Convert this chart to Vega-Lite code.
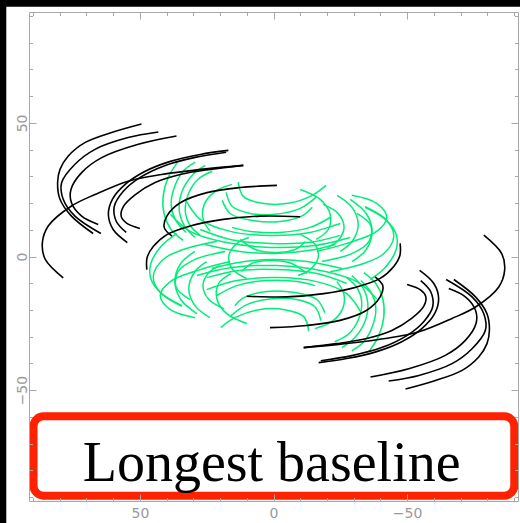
{
"$schema": "https://vega.github.io/schema/vega-lite/v6.json",
"width": 489, "height": 489,
"autosize": {"type": "none"},
"padding": {"left": 29, "top": 12, "right": 2, "bottom": 22},
"background": "black",
"config": {"view": {"stroke": null},
  "axis": {"grid": false, "zindex": 1, "domainColor": "#a8a8a8", "tickColor": "#a8a8a8", "labelColor": "#999999", "labelFont": "DejaVu Sans", "labelFontSize": 14, "tickWidth": 1, "domainWidth": 1}},
"datasets": {
"one": [{"k": 1}],
"blk": [
{"id":"C1","u":49.4,"v":49.6},{"id":"C1","u":60.6,"v":46.4},{"id":"C1","u":70.6,"v":42.6},{"id":"C1","u":76.8,"v":37.6},{"id":"C1","u":79.9,"v":32.6},{"id":"C1","u":80.8,"v":27.6},{"id":"C1","u":79.9,"v":21.4},{"id":"C1","u":75.6,"v":15.1},{"id":"C1","u":67.5,"v":8.6},
{"id":"C1m","u":-49.4,"v":-49.6},{"id":"C1m","u":-60.6,"v":-46.4},{"id":"C1m","u":-70.6,"v":-42.6},{"id":"C1m","u":-76.8,"v":-37.6},{"id":"C1m","u":-79.9,"v":-32.6},{"id":"C1m","u":-80.8,"v":-27.6},{"id":"C1m","u":-79.9,"v":-21.4},{"id":"C1m","u":-75.6,"v":-15.1},{"id":"C1m","u":-67.5,"v":-8.6},
{"id":"C2","u":43.1,"v":46.6},{"id":"C2","u":54.4,"v":44.5},{"id":"C2","u":66.8,"v":40.1},{"id":"C2","u":74.3,"v":34.5},{"id":"C2","u":79.3,"v":27.6},{"id":"C2","u":78.7,"v":21.4},{"id":"C2","u":74.3,"v":15.1},{"id":"C2","u":64.6,"v":8.6},
{"id":"C2m","u":-43.1,"v":-46.6},{"id":"C2m","u":-54.4,"v":-44.5},{"id":"C2m","u":-66.8,"v":-40.1},{"id":"C2m","u":-74.3,"v":-34.5},{"id":"C2m","u":-79.3,"v":-27.6},{"id":"C2m","u":-78.7,"v":-21.4},{"id":"C2m","u":-74.3,"v":-15.1},{"id":"C2m","u":-64.6,"v":-8.6},
{"id":"C3","u":36.3,"v":45.1},{"id":"C3","u":50.6,"v":42.0},{"id":"C3","u":64.3,"v":37.0},{"id":"C3","u":71.8,"v":31.4},{"id":"C3","u":75.8,"v":25.1},{"id":"C3","u":75.6,"v":20.1},{"id":"C3","u":71.8,"v":15.1},{"id":"C3","u":65.6,"v":12.0},
{"id":"C3m","u":-36.3,"v":-45.1},{"id":"C3m","u":-50.6,"v":-42.0},{"id":"C3m","u":-64.3,"v":-37.0},{"id":"C3m","u":-71.8,"v":-31.4},{"id":"C3m","u":-75.8,"v":-25.1},{"id":"C3m","u":-75.6,"v":-20.1},{"id":"C3m","u":-71.8,"v":-15.1},{"id":"C3m","u":-65.6,"v":-12.0},
{"id":"D1","u":16.9,"v":39.7},{"id":"D1","u":27.4,"v":38.2},{"id":"D1","u":38.6,"v":35.6},{"id":"D1","u":48.0,"v":31.9},{"id":"D1","u":55.5,"v":27.0},{"id":"D1","u":60.3,"v":21.4},{"id":"D1","u":61.8,"v":15.7},{"id":"D1","u":60.0,"v":10.1},{"id":"D1","u":54.7,"v":5.2},
{"id":"D1m","u":-16.9,"v":-39.7},{"id":"D1m","u":-27.4,"v":-38.2},{"id":"D1m","u":-38.6,"v":-35.6},{"id":"D1m","u":-48.0,"v":-31.9},{"id":"D1m","u":-55.5,"v":-27.0},{"id":"D1m","u":-60.3,"v":-21.4},{"id":"D1m","u":-61.8,"v":-15.7},{"id":"D1m","u":-60.0,"v":-10.1},{"id":"D1m","u":-54.7,"v":-5.2},
{"id":"D2","u":17.7,"v":39.0},{"id":"D2","u":29.3,"v":37.1},{"id":"D2","u":40.5,"v":34.1},{"id":"D2","u":49.9,"v":29.6},{"id":"D2","u":56.2,"v":24.4},{"id":"D2","u":59.6,"v":18.7},{"id":"D2","u":58.8,"v":13.1},{"id":"D2","u":55.1,"v":9.0},
{"id":"D2m","u":-17.7,"v":-39.0},{"id":"D2m","u":-29.3,"v":-37.1},{"id":"D2m","u":-40.5,"v":-34.1},{"id":"D2m","u":-49.9,"v":-29.6},{"id":"D2m","u":-56.2,"v":-24.4},{"id":"D2m","u":-59.6,"v":-18.7},{"id":"D2m","u":-58.8,"v":-13.1},{"id":"D2m","u":-55.1,"v":-9.0},
{"id":"D3","u":11.3,"v":34.1},{"id":"D3","u":23.7,"v":32.6},{"id":"D3","u":34.9,"v":30.7},{"id":"D3","u":44.3,"v":27.7},{"id":"D3","u":51.7,"v":23.2},{"id":"D3","u":56.2,"v":18.7},{"id":"D3","u":57.0,"v":15.0},{"id":"D3","u":55.0,"v":12.5},{"id":"D3","u":50.0,"v":10.5},
{"id":"D3m","u":-11.3,"v":-34.1},{"id":"D3m","u":-23.7,"v":-32.6},{"id":"D3m","u":-34.9,"v":-30.7},{"id":"D3m","u":-44.3,"v":-27.7},{"id":"D3m","u":-51.7,"v":-23.2},{"id":"D3m","u":-56.2,"v":-18.7},{"id":"D3m","u":-57.0,"v":-15.0},{"id":"D3m","u":-55.0,"v":-12.5},{"id":"D3m","u":-50.0,"v":-10.5},
{"id":"E","u":11.3,"v":34.1},{"id":"E","u":24.4,"v":32.9},{"id":"E","u":41.9,"v":30.7},{"id":"E","u":54.4,"v":28.2},{"id":"E","u":66.8,"v":23.2},{"id":"E","u":75.6,"v":18.9},{"id":"E","u":84.3,"v":11.4},{"id":"E","u":86.5,"v":5.1},{"id":"E","u":85.4,"v":-1.1},{"id":"E","u":78.7,"v":-8.0},
{"id":"Em","u":-11.3,"v":-34.1},{"id":"Em","u":-24.4,"v":-32.9},{"id":"Em","u":-41.9,"v":-30.7},{"id":"Em","u":-54.4,"v":-28.2},{"id":"Em","u":-66.8,"v":-23.2},{"id":"Em","u":-75.6,"v":-18.9},{"id":"Em","u":-84.3,"v":-11.4},{"id":"Em","u":-86.5,"v":-5.1},{"id":"Em","u":-85.4,"v":1.1},{"id":"Em","u":-78.7,"v":8.0},
{"id":"F1","u":-1.3,"v":26.6},{"id":"F1","u":12.5,"v":25.8},{"id":"F1","u":24.9,"v":23.9},{"id":"F1","u":34.9,"v":20.1},{"id":"F1","u":39.9,"v":15.1},{"id":"F1","u":40.9,"v":10.9},{"id":"F1","u":38.0,"v":7.6},
{"id":"F1m","u":1.3,"v":-26.6},{"id":"F1m","u":-12.5,"v":-25.8},{"id":"F1m","u":-24.9,"v":-23.9},{"id":"F1m","u":-34.9,"v":-20.1},{"id":"F1m","u":-39.9,"v":-15.1},{"id":"F1m","u":-40.9,"v":-10.9},{"id":"F1m","u":-38.0,"v":-7.6},
{"id":"F2","u":-10.0,"v":14.9},{"id":"F2","u":5.0,"v":15.1},{"id":"F2","u":18.8,"v":13.9},{"id":"F2","u":31.2,"v":11.4},{"id":"F2","u":39.9,"v":8.2},{"id":"F2","u":45.0,"v":3.7},{"id":"F2","u":47.3,"v":-0.4},{"id":"F2","u":47.4,"v":-4.9},
{"id":"F2m","u":10.0,"v":-14.9},{"id":"F2m","u":-5.0,"v":-15.1},{"id":"F2m","u":-18.8,"v":-13.9},{"id":"F2m","u":-31.2,"v":-11.4},{"id":"F2m","u":-39.9,"v":-8.2},{"id":"F2m","u":-45.0,"v":-3.7},{"id":"F2m","u":-47.3,"v":0.4},{"id":"F2m","u":-47.4,"v":4.9}
],
"grn": [
{"id":"GA1","u":35.7,"v":35.6},{"id":"GA1","u":39.4,"v":29.6},{"id":"GA1","u":41.3,"v":22.5},{"id":"GA1","u":40.9,"v":15.8},{"id":"GA1","u":38.3,"v":10.1},{"id":"GA1","u":33.8,"v":6.0},
{"id":"GA1m","u":-35.7,"v":-35.6},{"id":"GA1m","u":-39.4,"v":-29.6},{"id":"GA1m","u":-41.3,"v":-22.5},{"id":"GA1m","u":-40.9,"v":-15.8},{"id":"GA1m","u":-38.3,"v":-10.1},{"id":"GA1m","u":-33.8,"v":-6.0},
{"id":"GA2","u":29.3,"v":35.3},{"id":"GA2","u":33.8,"v":31.9},{"id":"GA2","u":37.1,"v":25.9},{"id":"GA2","u":38.3,"v":19.5},{"id":"GA2","u":36.8,"v":13.9},{"id":"GA2","u":32.7,"v":9.0},
{"id":"GA2m","u":-29.3,"v":-35.3},{"id":"GA2m","u":-33.8,"v":-31.9},{"id":"GA2m","u":-37.1,"v":-25.9},{"id":"GA2m","u":-38.3,"v":-19.5},{"id":"GA2m","u":-36.8,"v":-13.9},{"id":"GA2m","u":-32.7,"v":-9.0},
{"id":"GA3","u":22.9,"v":31.9},{"id":"GA3","u":28.2,"v":28.9},{"id":"GA3","u":31.9,"v":23.3},{"id":"GA3","u":33.0,"v":16.9},{"id":"GA3","u":31.2,"v":11.6},{"id":"GA3","u":27.4,"v":7.9},
{"id":"GA3m","u":-22.9,"v":-31.9},{"id":"GA3m","u":-28.2,"v":-28.9},{"id":"GA3m","u":-31.9,"v":-23.3},{"id":"GA3m","u":-33.0,"v":-16.9},{"id":"GA3m","u":-31.2,"v":-11.6},{"id":"GA3m","u":-27.4,"v":-7.9},
{"id":"GA4","u":15.5,"v":27.0},{"id":"GA4","u":21.8,"v":24.4},{"id":"GA4","u":25.9,"v":19.5},{"id":"GA4","u":26.3,"v":13.9},{"id":"GA4","u":23.7,"v":9.4},
{"id":"GA4m","u":-15.5,"v":-27.0},{"id":"GA4m","u":-21.8,"v":-24.4},{"id":"GA4m","u":-25.9,"v":-19.5},{"id":"GA4m","u":-26.3,"v":-13.9},{"id":"GA4m","u":-23.7,"v":-9.4},
{"id":"GA5","u":25.6,"v":34.1},{"id":"GA5","u":30.4,"v":30.4},{"id":"GA5","u":34.2,"v":24.4},{"id":"GA5","u":35.3,"v":17.6},{"id":"GA5","u":33.4,"v":11.6},{"id":"GA5","u":29.3,"v":7.1},
{"id":"GA5m","u":-25.6,"v":-34.1},{"id":"GA5m","u":-30.4,"v":-30.4},{"id":"GA5m","u":-34.2,"v":-24.4},{"id":"GA5m","u":-35.3,"v":-17.6},{"id":"GA5m","u":-33.4,"v":-11.6},{"id":"GA5m","u":-29.3,"v":-7.1},
{"id":"GB1","u":17.7,"v":24.0},{"id":"GB1","u":15.5,"v":18.8},{"id":"GB1","u":8.7,"v":16.1},{"id":"GB1","u":-0.6,"v":15.8},{"id":"GB1","u":-10.0,"v":18.0},{"id":"GB1","u":-16.3,"v":22.5},
{"id":"GB1m","u":-17.7,"v":-24.0},{"id":"GB1m","u":-15.5,"v":-18.8},{"id":"GB1m","u":-8.7,"v":-16.1},{"id":"GB1m","u":0.6,"v":-15.8},{"id":"GB1m","u":10.0,"v":-18.0},{"id":"GB1m","u":16.3,"v":-22.5},
{"id":"GB2","u":19.2,"v":21.0},{"id":"GB2","u":16.2,"v":16.1},{"id":"GB2","u":8.0,"v":13.5},{"id":"GB2","u":-2.5,"v":13.1},{"id":"GB2","u":-11.1,"v":15.4},{"id":"GB2","u":-14.5,"v":18.4},
{"id":"GB2m","u":-19.2,"v":-21.0},{"id":"GB2m","u":-16.2,"v":-16.1},{"id":"GB2m","u":-8.0,"v":-13.5},{"id":"GB2m","u":2.5,"v":-13.1},{"id":"GB2m","u":11.1,"v":-15.4},{"id":"GB2m","u":14.5,"v":-18.4},
{"id":"GB3","u":15.5,"v":10.9},{"id":"GB3","u":8.7,"v":9.4},{"id":"GB3","u":-2.5,"v":9.0},{"id":"GB3","u":-13.7,"v":10.9},{"id":"GB3","u":-21.2,"v":14.6},
{"id":"GB3m","u":-15.5,"v":-10.9},{"id":"GB3m","u":-8.7,"v":-9.4},{"id":"GB3m","u":2.5,"v":-9.0},{"id":"GB3m","u":13.7,"v":-10.9},{"id":"GB3m","u":21.2,"v":-14.6},
{"id":"GB4","u":13.2,"v":27.8},{"id":"GB4","u":11.3,"v":22.5},{"id":"GB4","u":4.2,"v":19.9},{"id":"GB4","u":-5.5,"v":19.9},{"id":"GB4","u":-14.5,"v":22.9},{"id":"GB4","u":-19.7,"v":26.6},
{"id":"GB4m","u":-13.2,"v":-27.8},{"id":"GB4m","u":-11.3,"v":-22.5},{"id":"GB4m","u":-4.2,"v":-19.9},{"id":"GB4m","u":5.5,"v":-19.9},{"id":"GB4m","u":14.5,"v":-22.9},{"id":"GB4m","u":19.7,"v":-26.6},
{"id":"GC1","u":-18.6,"v":19.5},{"id":"GC1","u":-24.2,"v":16.1},{"id":"GC1","u":-26.4,"v":10.9},{"id":"GC1","u":-24.2,"v":6.0},{"id":"GC1","u":-20.1,"v":3.4},
{"id":"GC1m","u":18.6,"v":-19.5},{"id":"GC1m","u":24.2,"v":-16.1},{"id":"GC1m","u":26.4,"v":-10.9},{"id":"GC1m","u":24.2,"v":-6.0},{"id":"GC1m","u":20.1,"v":-3.4},
{"id":"GC2","u":-23.8,"v":22.9},{"id":"GC2","u":-29.4,"v":18.4},{"id":"GC2","u":-31.7,"v":12.0},{"id":"GC2","u":-29.4,"v":5.6},{"id":"GC2","u":-25.0,"v":1.9},
{"id":"GC2m","u":23.8,"v":-22.9},{"id":"GC2m","u":29.4,"v":-18.4},{"id":"GC2m","u":31.7,"v":-12.0},{"id":"GC2m","u":29.4,"v":-5.6},{"id":"GC2m","u":25.0,"v":-1.9},
{"id":"GC3","u":-34.3,"v":18.4},{"id":"GC3","u":-41.8,"v":13.9},{"id":"GC3","u":-45.9,"v":8.3},{"id":"GC3","u":-45.9,"v":2.6},{"id":"GC3","u":-41.8,"v":-4.1},{"id":"GC3","u":-36.2,"v":-8.6},
{"id":"GC3m","u":34.3,"v":-18.4},{"id":"GC3m","u":41.8,"v":-13.9},{"id":"GC3m","u":45.9,"v":-8.3},{"id":"GC3m","u":45.9,"v":-2.6},{"id":"GC3m","u":41.8,"v":4.1},{"id":"GC3m","u":36.2,"v":8.6},
{"id":"GC4","u":-28.7,"v":21.4},{"id":"GC4","u":-34.7,"v":16.1},{"id":"GC4","u":-36.9,"v":9.4},{"id":"GC4","u":-34.7,"v":2.6},{"id":"GC4","u":-29.4,"v":-1.9},
{"id":"GC4m","u":28.7,"v":-21.4},{"id":"GC4m","u":34.7,"v":-16.1},{"id":"GC4m","u":36.9,"v":-9.4},{"id":"GC4m","u":34.7,"v":-2.6},{"id":"GC4m","u":29.4,"v":1.9},
{"id":"GC5","u":-10.0,"v":25.1},{"id":"GC5","u":-17.5,"v":21.4},{"id":"GC5","u":-21.2,"v":15.8},{"id":"GC5","u":-20.5,"v":10.1},{"id":"GC5","u":-16.0,"v":6.4},
{"id":"GC5m","u":10.0,"v":-25.1},{"id":"GC5m","u":17.5,"v":-21.4},{"id":"GC5m","u":21.2,"v":-15.8},{"id":"GC5m","u":20.5,"v":-10.1},{"id":"GC5m","u":16.0,"v":-6.4},
{"id":"GD1","u":27.4,"v":10.1},{"id":"GD1","u":16.2,"v":6.4},{"id":"GD1","u":1.2,"v":4.9},{"id":"GD1","u":-13.7,"v":5.3},{"id":"GD1","u":-25.0,"v":7.9},
{"id":"GD1m","u":-27.4,"v":-10.1},{"id":"GD1m","u":-16.2,"v":-6.4},{"id":"GD1m","u":-1.2,"v":-4.9},{"id":"GD1m","u":13.7,"v":-5.3},{"id":"GD1m","u":25.0,"v":-7.9},
{"id":"GD2","u":25.6,"v":4.5},{"id":"GD2","u":12.5,"v":1.9},{"id":"GD2","u":-0.6,"v":1.1},{"id":"GD2","u":-13.7,"v":2.3},{"id":"GD2","u":-23.1,"v":4.5},
{"id":"GD2m","u":-25.6,"v":-4.5},{"id":"GD2m","u":-12.5,"v":-1.9},{"id":"GD2m","u":0.6,"v":-1.1},{"id":"GD2m","u":13.7,"v":-2.3},{"id":"GD2m","u":23.1,"v":-4.5},
{"id":"GE1","u":21.2,"v":5.7},{"id":"GE1","u":33.8,"v":2.6},{"id":"GE1","u":41.3,"v":-1.1},{"id":"GE1","u":45.0,"v":-7.5},{"id":"GE1","u":42.4,"v":-13.5},{"id":"GE1","u":34.3,"v":-18.6},
{"id":"GE1m","u":-21.2,"v":-5.7},{"id":"GE1m","u":-33.8,"v":-2.6},{"id":"GE1m","u":-41.3,"v":1.1},{"id":"GE1m","u":-45.0,"v":7.5},{"id":"GE1m","u":-42.4,"v":13.5},{"id":"GE1m","u":-34.3,"v":18.6},
{"id":"GE2","u":18.1,"v":1.9},{"id":"GE2","u":29.3,"v":-1.1},{"id":"GE2","u":35.7,"v":-5.6},{"id":"GE2","u":36.4,"v":-11.6},{"id":"GE2","u":31.2,"v":-16.1},
{"id":"GE2m","u":-18.1,"v":-1.9},{"id":"GE2m","u":-29.3,"v":1.1},{"id":"GE2m","u":-35.7,"v":5.6},{"id":"GE2m","u":-36.4,"v":11.6},{"id":"GE2m","u":-31.2,"v":16.1},
{"id":"GE3","u":16.2,"v":-1.9},{"id":"GE3","u":27.4,"v":-4.9},{"id":"GE3","u":38.6,"v":-9.4},{"id":"GE3","u":42.4,"v":-14.6},{"id":"GE3","u":38.6,"v":-19.9},{"id":"GE3","u":29.3,"v":-22.9},
{"id":"GE3m","u":-16.2,"v":1.9},{"id":"GE3m","u":-27.4,"v":4.9},{"id":"GE3m","u":-38.6,"v":9.4},{"id":"GE3m","u":-42.4,"v":14.6},{"id":"GE3m","u":-38.6,"v":19.9},{"id":"GE3m","u":-29.3,"v":22.9},
{"id":"GF1","u":-10.0,"v":8.3},{"id":"GF1","u":-15.6,"v":4.5},{"id":"GF1","u":-16.7,"v":-0.4},{"id":"GF1","u":-13.7,"v":-4.9},{"id":"GF1","u":-9.2,"v":-7.1},
{"id":"GF1m","u":10.0,"v":-8.3},{"id":"GF1m","u":15.6,"v":-4.5},{"id":"GF1m","u":16.7,"v":0.4},{"id":"GF1m","u":13.7,"v":4.9},{"id":"GF1m","u":9.2,"v":7.1},
{"id":"GH1","u":38.6,"v":15.8},{"id":"GH1","u":31.2,"v":9.4},{"id":"GH1","u":18.1,"v":5.3},{"id":"GH1","u":1.2,"v":3.4},{"id":"GH1","u":-15.6,"v":4.1},{"id":"GH1","u":-28.7,"v":7.1},
{"id":"GH1m","u":-38.6,"v":-15.8},{"id":"GH1m","u":-31.2,"v":-9.4},{"id":"GH1m","u":-18.1,"v":-5.3},{"id":"GH1m","u":-1.2,"v":-3.4},{"id":"GH1m","u":15.6,"v":-4.1},{"id":"GH1m","u":28.7,"v":-7.1},
{"id":"GH2","u":33.0,"v":21.4},{"id":"GH2","u":27.4,"v":13.9},{"id":"GH2","u":16.2,"v":9.4},{"id":"GH2","u":1.2,"v":7.9},{"id":"GH2","u":-13.7,"v":9.0},{"id":"GH2","u":-25.0,"v":12.4},
{"id":"GH2m","u":-33.0,"v":-21.4},{"id":"GH2m","u":-27.4,"v":-13.9},{"id":"GH2m","u":-16.2,"v":-9.4},{"id":"GH2m","u":-1.2,"v":-7.9},{"id":"GH2m","u":13.7,"v":-9.0},{"id":"GH2m","u":25.0,"v":-12.4},
{"id":"GI1","u":12.5,"v":6.4},{"id":"GI1","u":6.8,"v":2.6},{"id":"GI1","u":-0.6,"v":1.5},{"id":"GI1","u":-8.1,"v":2.6},{"id":"GI1","u":-11.9,"v":5.6},
{"id":"GI1m","u":-12.5,"v":-6.4},{"id":"GI1m","u":-6.8,"v":-2.6},{"id":"GI1m","u":0.6,"v":-1.5},{"id":"GI1m","u":8.1,"v":-2.6},{"id":"GI1m","u":11.9,"v":-5.6}
]},
"layer": [
{"data": {"name": "one"},
 "mark": {"type": "rect", "fill": "white"},
 "encoding": {
  "x": {"datum": 100, "type": "quantitative", "scale": {"domain": [-91.5, 91.5], "reverse": true, "nice": false, "zero": false},
        "axis": {"orient": "bottom", "zindex": 2, "values": [50, 0, -50], "ticks": false, "domain": false, "labelPadding": 5, "title": null}},
  "x2": {"datum": -100},
  "y": {"datum": 93.5, "type": "quantitative", "scale": {"domain": [-91.5, 91.5], "nice": false, "zero": false},
        "axis": {"orient": "left", "zindex": 2, "values": [50, 0, -50], "ticks": false, "domain": false, "labelAngle": 270, "labelAlign": "center", "labelBaseline": "alphabetic", "labelPadding": 3, "title": null}},
  "y2": {"datum": -100}}},
{"data": {"name": "grn"},
 "mark": {"type": "line", "color": "#00ee77", "strokeWidth": 1.5, "interpolate": "catmull-rom"},
 "encoding": {
  "x": {"field": "u", "type": "quantitative", "scale": {"domain": [-91.5, 91.5], "reverse": true, "nice": false, "zero": false},
        "axis": {"orient": "top", "zindex": 2, "values": [-50, 0, 50], "tickSize": -7, "labels": false, "domain": true, "title": null}},
  "y": {"field": "v", "type": "quantitative", "scale": {"domain": [-91.5, 91.5], "nice": false, "zero": false},
        "axis": {"orient": "right", "zindex": 2, "values": [-50, 0, 50], "tickSize": -7, "labels": false, "domain": true, "title": null}},
  "detail": {"field": "id"},
  "order": {"value": null}}},
{"data": {"name": "blk"},
 "mark": {"type": "line", "color": "black", "strokeWidth": 1.6, "interpolate": "catmull-rom"},
 "encoding": {
  "x": {"field": "u", "type": "quantitative", "scale": {"domain": [-91.5, 91.5], "reverse": true, "nice": false, "zero": false},
        "axis": {"orient": "bottom", "zindex": 2, "values": [-50, 0, 50], "tickSize": -7, "labels": false, "domain": true, "title": null}},
  "y": {"field": "v", "type": "quantitative", "scale": {"domain": [-91.5, 91.5], "nice": false, "zero": false},
        "axis": {"orient": "left", "zindex": 2, "values": [-50, 0, 50], "tickSize": -7, "labels": false, "domain": true, "title": null}},
  "detail": {"field": "id"},
  "order": {"value": null}}},
{"data": {"name": "one"},
 "mark": {"type": "rect", "fill": "white", "stroke": "#ff2200", "strokeWidth": 8, "cornerRadius": 10},
 "encoding": {
  "x": {"datum": 89.8, "type": "quantitative", "scale": {"domain": [-91.5, 91.5], "reverse": true, "nice": false, "zero": false},
        "axis": {"orient": "top", "zindex": 2, "values": [-90, -80, -70, -60, -50, -40, -30, -20, -10, 0, 10, 20, 30, 40, 50, 60, 70, 80, 90], "tickSize": -3.5, "labels": false, "domain": false, "title": null}},
  "x2": {"datum": -90.1},
  "y": {"datum": -59.8, "type": "quantitative", "scale": {"domain": [-91.5, 91.5], "nice": false, "zero": false},
        "axis": {"orient": "right", "zindex": 2, "values": [-90, -80, -70, -60, -50, -40, -30, -20, -10, 0, 10, 20, 30, 40, 50, 60, 70, 80, 90], "tickSize": -3.5, "labels": false, "domain": false, "title": null}},
  "y2": {"datum": -89.5}}},
{"data": {"name": "one"},
 "mark": {"type": "text", "text": "Longest baseline", "font": "Liberation Serif", "fontSize": 56, "align": "center", "baseline": "alphabetic", "color": "black"},
 "encoding": {
  "x": {"datum": 0.7, "type": "quantitative", "scale": {"domain": [-91.5, 91.5], "reverse": true, "nice": false, "zero": false},
        "axis": {"orient": "bottom", "zindex": 2, "values": [-90, -80, -70, -60, -50, -40, -30, -20, -10, 0, 10, 20, 30, 40, 50, 60, 70, 80, 90], "tickSize": -3.5, "labels": false, "domain": false, "title": null}},
  "y": {"datum": -84.0, "type": "quantitative", "scale": {"domain": [-91.5, 91.5], "nice": false, "zero": false},
        "axis": {"orient": "left", "zindex": 2, "values": [-90, -80, -70, -60, -50, -40, -30, -20, -10, 0, 10, 20, 30, 40, 50, 60, 70, 80, 90], "tickSize": -3.5, "labels": false, "domain": false, "title": null}}}}
],
"resolve": {"axis": {"x": "independent", "y": "independent"}}
}
